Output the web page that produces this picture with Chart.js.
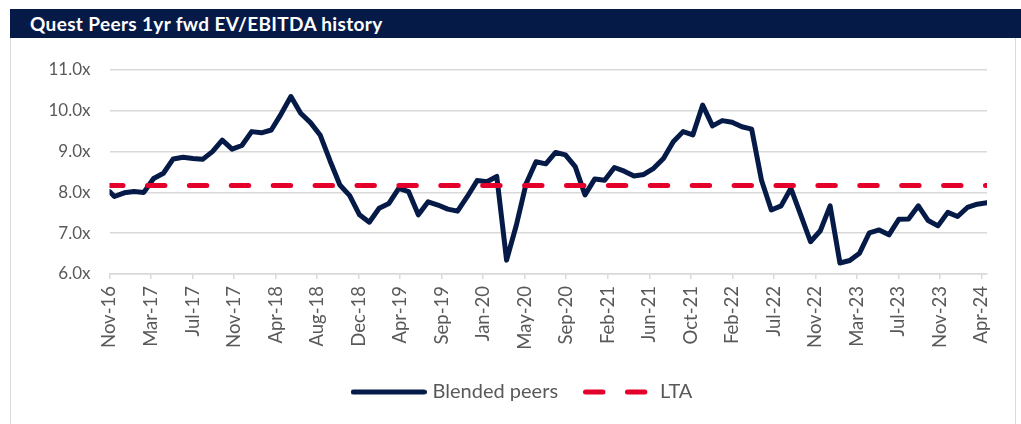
<!DOCTYPE html>
<html>
<head>
<meta charset="utf-8">
<script src="https://cdn.jsdelivr.net/npm/chart.js@4/dist/chart.umd.min.js"></script>
<style>
  html, body { margin: 0; padding: 0; background: #ffffff; width: 1021px; height: 424px; overflow: hidden; }
  #frame { position: absolute; left: 10px; top: 38px; width: 1006px; height: 390px; border-left: 1px solid #d9d9d9; border-right: 1px solid #d9d9d9; box-sizing: border-box; }
  #title { position: absolute; left: 10px; top: 9px; width: 1011px; height: 29px; background: #061a48; color: #ffffff;
           font: bold 19px Lato, "Open Sans", sans-serif; letter-spacing: 0.35px; line-height: 29px; padding-left: 20px; box-sizing: border-box; white-space: nowrap; }
  #wrap { position: absolute; left: 0; top: 0; width: 1021px; height: 424px; }
</style>
</head>
<body>
<div id="frame"></div>
<div id="title">Quest Peers 1yr fwd EV/EBITDA history</div>
<div id="wrap"><canvas id="c" width="1021" height="424"></canvas></div>
<script>
// ---- data ----
const blendedPeers = [
  8.02, 7.90, 7.99, 8.02, 8.00, 8.34, 8.47, 8.82, 8.86, 8.83,
  8.81, 9.00, 9.28, 9.06, 9.15, 9.49, 9.46, 9.53, 9.92, 10.35,
  9.94, 9.71, 9.40, 8.77, 8.18, 7.92, 7.45, 7.27, 7.61, 7.73,
  8.10, 8.02, 7.45, 7.77, 7.69, 7.59, 7.54, 7.90, 8.29, 8.26,
  8.39, 6.34, 7.20, 8.22, 8.75, 8.70, 8.98, 8.92, 8.63, 7.94,
  8.33, 8.30, 8.61, 8.52, 8.40, 8.44, 8.59, 8.83, 9.24, 9.49,
  9.41, 10.14, 9.63, 9.76, 9.72, 9.61, 9.55, 8.30, 7.57, 7.67,
  8.10, 7.45, 6.79, 7.06, 7.67, 6.27, 6.33, 6.51, 7.01, 7.08,
  6.96, 7.34, 7.35, 7.67, 7.31, 7.18, 7.51, 7.41, 7.63, 7.71,
  7.75
];
const ltaValue = 8.17;
const tickLabels = ['Nov-16','Mar-17','Jul-17','Nov-17','Apr-18','Aug-18','Dec-18','Apr-19','Sep-19','Jan-20','May-20',
                    'Sep-20','Feb-21','Jun-21','Oct-21','Feb-22','Jul-22','Nov-22','Mar-23','Jul-23','Nov-23','Apr-24'];
const yTickValues = [6, 7, 8, 9, 10, 11];
const seriesLabels = ['Blended peers', 'LTA'];

// x position of each point in months since the axis start (first point mid-month, then month ends)
const xMonth = blendedPeers.map((_, i) => (i === 0 ? 0 : i - 0.5));
const xMax = xMonth[xMonth.length - 1];
const tickStepMonths = 4.235;

const NAVY = '#061a48';
const RED = '#e4002b';
const GRID = '#d9d9d9';
const TEXT = '#595959';
const FONT = 'Lato, "Open Sans", sans-serif';
const LTA_DASH = [17.4, 24.5];

// legend swatches (line samples) drawn into small canvases
function swatch(width, color, dash) {
  const c = document.createElement('canvas');
  c.width = width; c.height = 8;
  const g = c.getContext('2d');
  g.strokeStyle = color; g.lineWidth = 5; g.lineCap = 'round';
  if (dash) g.setLineDash(dash);
  g.beginPath(); g.moveTo(2.5, 4); g.lineTo(width - 2.5, 4); g.stroke();
  return c;
}
const legendSwatches = [swatch(76, NAVY, null), swatch(66, RED, LTA_DASH)];

// legend in the reference is centred a little right of the canvas centre
const legendShift = {
  id: 'legendShift',
  afterLayout(chart) {
    if (chart.legend) { chart.legend.left += 30; chart.legend.right += 30; }
  }
};

new Chart(document.getElementById('c'), {
  type: 'line',
  data: {
    datasets: [
      {
        label: seriesLabels[0],
        data: blendedPeers.map((v, i) => ({ x: xMonth[i], y: v })),
        borderColor: NAVY, backgroundColor: NAVY, borderWidth: 5,
        pointRadius: 0, borderJoinStyle: 'round', borderCapStyle: 'round', tension: 0, order: 2
      },
      {
        label: seriesLabels[1],
        data: [{ x: 0, y: ltaValue }, { x: xMax, y: ltaValue }],
        borderColor: RED, backgroundColor: RED, borderWidth: 5,
        borderDash: LTA_DASH, borderDashOffset: 3.9, borderCapStyle: 'round',
        pointRadius: 0, order: 1
      }
    ]
  },
  plugins: [legendShift],
  options: {
    responsive: false, animation: false, devicePixelRatio: 1,
    layout: { padding: { left: 0, right: 34, top: 70, bottom: 12 } },
    plugins: {
      tooltip: { enabled: false },
      legend: {
        position: 'bottom',
        labels: {
          usePointStyle: true, pointStyleWidth: 68, boxHeight: 20,
          color: TEXT, font: { family: FONT, size: 20 }, padding: 24,
          sort: (a, b) => a.datasetIndex - b.datasetIndex,
          generateLabels(chart) {
            const items = Chart.defaults.plugins.legend.labels.generateLabels(chart);
            items.forEach(it => { it.pointStyle = legendSwatches[it.datasetIndex]; });
            return items;
          }
        }
      }
    },
    scales: {
      x: {
        type: 'linear', min: 0, max: xMax,
        afterBuildTicks: s => { s.ticks = tickLabels.map((_, k) => ({ value: k * tickStepMonths })); },
        afterFit: s => { s.height = 84; },
        ticks: {
          autoSkip: false, maxRotation: 90, minRotation: 90, padding: 7,
          color: TEXT, font: { family: FONT, size: 18.5 },
          callback: (v, i) => tickLabels[i]
        },
        grid: { drawOnChartArea: false, color: GRID, lineWidth: 1.5, tickLength: 5 },
        border: { color: GRID, width: 1.5 }
      },
      y: {
        min: 6, max: 11,
        afterBuildTicks: s => { s.ticks = yTickValues.map(v => ({ value: v })); },
        afterFit: s => { s.width = 109.5; },
        ticks: { padding: 19, color: TEXT, font: { family: FONT, size: 17 }, callback: v => v.toFixed(1) + 'x' },
        grid: { color: GRID, lineWidth: 1.5, drawTicks: false },
        border: { display: false }
      }
    }
  }
});
</script>
</body>
</html>
